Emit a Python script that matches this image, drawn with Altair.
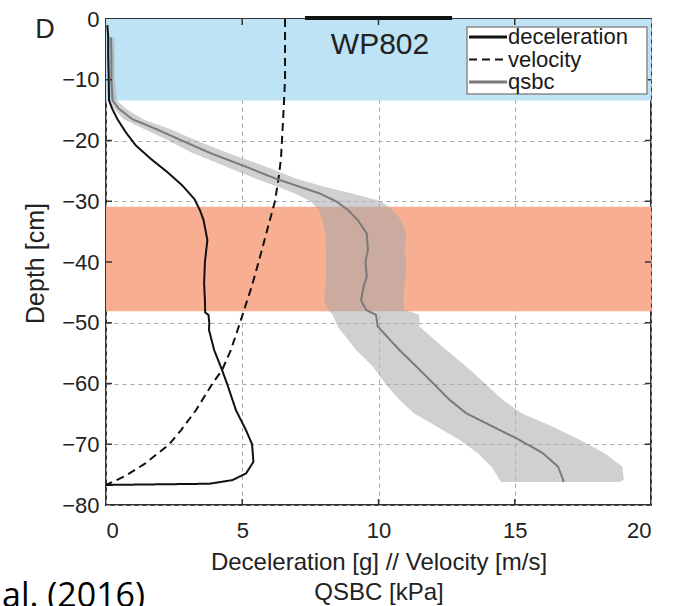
import altair as alt
import pandas as pd

# ---------------- data ----------------
series_names = ["deceleration", "velocity", "qsbc"]
series_colors = ["#111111", "#111111", "#7a7a7a"]
series_dashes = [[1, 0], [8, 5], [1, 0]]
series_widths = [2.8, 2.0, 3.0]

decel_depth = [-1, -3, -6, -10, -13.4, -14.8, -16.5, -18.6, -20.8, -23, -25.2, -27.4,
               -29.6, -31.5, -33.1, -36.4, -40, -43.5, -46.3, -48.3, -48.7, -50, -51.2,
               -54.5, -57.8, -60, -64.4, -67.7, -70, -72.9, -74.8, -75.9, -76.5, -76.7]
decel_g = [0.05, 0.08, 0.08, 0.1, 0.11, 0.23, 0.42, 0.72, 1.09, 1.64, 2.25, 2.8,
           3.24, 3.45, 3.58, 3.72, 3.63, 3.6, 3.63, 3.64, 3.76, 3.79, 3.78,
           3.97, 4.26, 4.44, 4.77, 5.14, 5.36, 5.41, 5.14, 4.64, 3.8, 0.0]

vel_depth = [0, -10, -16.5, -23, -26.3, -30, -35, -40, -44, -48, -51.2, -54.5, -57.8,
             -60, -64.4, -67.7, -70, -73.1, -75.2, -76.5, -76.7]
vel_ms = [6.57, 6.57, 6.5, 6.42, 6.33, 6.2, 5.9, 5.6, 5.35, 5.06, 4.83, 4.58, 4.26,
          3.91, 3.3, 2.75, 2.32, 1.46, 0.72, 0.1, 0.0]

qsbc_depth = [-3, -6, -10, -13.4, -14.8, -16.5, -18.1, -19.8, -22, -24.1, -26.3, -27.6,
              -28.7, -30, -31.4, -33.1, -35.3, -38, -40, -42.4, -44.1, -46.3, -47.9,
              -48.7, -50.6, -54.5, -57.2, -60.2, -62.7, -64.9, -67.1, -69.3, -71.5,
              -73.7, -75.9, -76.2]
qsbc_mid = [0.18, 0.2, 0.2, 0.24, 0.48, 0.97, 1.83, 2.68, 3.79, 5.01, 6.24, 7.1,
            7.83, 8.44, 8.87, 9.24, 9.57, 9.61, 9.52, 9.57, 9.45, 9.36, 9.55,
            9.91, 9.97, 10.77, 11.39, 12.06, 12.61, 13.22, 14.2, 15.18, 16.04,
            16.59, 16.78, 16.78]
qsbc_lo = [0.08, 0.1, 0.1, 0.12, 0.3, 0.65, 1.4, 2.2, 3.15, 4.3, 5.5, 6.3,
           6.9, 7.5, 7.8, 7.95, 8.05, 8.08, 8.08, 8.08, 8.05, 8.01, 8.14,
           8.32, 8.5, 9.18, 9.79, 10.28, 10.77, 11.3, 12.15, 12.98, 13.65,
           14.15, 14.45, 14.5]
qsbc_hi = [0.3, 0.32, 0.32, 0.4, 0.75, 1.35, 2.35, 3.2, 4.45, 5.75, 7.0, 8.0,
           9.0, 10.1, 10.5, 10.83, 11.02, 10.96, 11.02, 11.0, 10.95, 10.9, 10.96,
           11.5, 11.5, 12.49, 13.22, 13.96, 14.57, 15.25, 16.4, 17.4, 18.3,
           18.95, 19.0, 18.86]

band_top = [0, -30.9]
band_bottom = [-13.4, -48.1]
band_colors = ["#bde3f5", "#f7ae91"]

x_ticks = [0, 5, 10, 15, 20]
y_ticks = [-80, -70, -60, -50, -40, -30, -20, -10, 0]
x_inner = [5, 10, 15]
y_inner = [-70, -60, -50, -40, -30, -20, -10]
top_bar = [7.3, 12.7]

x_title = ["Deceleration [g] // Velocity [m/s]", "QSBC [kPa]"]
y_title = "Depth [cm]"

# ---------------- tables ----------------
rows = []
for name, dep, val in [("deceleration", decel_depth, decel_g),
                       ("velocity", vel_depth, vel_ms),
                       ("qsbc", qsbc_depth, qsbc_mid)]:
    for i, (d, v) in enumerate(zip(dep, val)):
        rows.append({"series": name, "depth": d, "value": v, "idx": i})
lines_df = pd.DataFrame(rows)
band_df = pd.DataFrame({"depth": qsbc_depth, "lo": qsbc_lo, "hi": qsbc_hi})
zones_df = pd.DataFrame({"top": band_top, "bottom": band_bottom, "c": band_colors})
yin_df = pd.DataFrame({"t": y_inner})
xin_df = pd.DataFrame({"t": x_inner})
bar_df = pd.DataFrame({"a": [top_bar[0]], "b": [top_bar[1]]})

FONT = "Liberation Sans"

xscale = alt.Scale(domain=[0, 20], nice=False, zero=False)
yscale = alt.Scale(domain=[-80, 0], nice=False, zero=False)
xaxis = alt.Axis(values=x_ticks, labelPadding=15, titleY=45, titleBaseline="top",
                 titleLineHeight=30, titleFontSize=24)
yaxis = alt.Axis(values=y_ticks, labelPadding=7, titleX=-63, titleY=244,
                 titleAngle=270, titleAlign="center", titleBaseline="alphabetic",
                 titleFontSize=25)


def X(field):
    return alt.X(field, type="quantitative", scale=xscale, axis=xaxis, title=x_title)


def Y(field):
    return alt.Y(field, type="quantitative", scale=yscale, axis=yaxis, title=y_title)


zones = alt.Chart(zones_df).mark_rect().encode(
    y=Y("top"), y2="bottom", color=alt.Color("c:N", scale=None)
)

band = alt.Chart(band_df).mark_area(orient="horizontal", color="#a8aaad", opacity=0.55).encode(
    y=Y("depth"), x=X("lo"), x2="hi"
)

lines = alt.Chart(lines_df).mark_line(strokeWidth=2).encode(
    x=X("value"), y=Y("depth"), order="idx:Q",
    color=alt.Color("series:N", scale=alt.Scale(domain=series_names, range=series_colors),
                    legend=None),
    strokeDash=alt.StrokeDash("series:N", scale=alt.Scale(domain=series_names, range=series_dashes),
                              legend=None),
    detail="series:N",
)

ytick_l = alt.Chart(yin_df).mark_rule(color="#333", strokeWidth=1.5).encode(
    y=Y("t"), x=alt.value(0), x2=alt.value(6))
ytick_r = alt.Chart(yin_df).mark_rule(color="#333", strokeWidth=1.5).encode(
    y=Y("t"), x=alt.value(539), x2=alt.value(545))
xtick_b = alt.Chart(xin_df).mark_rule(color="#333", strokeWidth=1.5).encode(
    x=X("t"), y=alt.value(480), y2=alt.value(486))
xtick_t = alt.Chart(xin_df).mark_rule(color="#333", strokeWidth=1.5).encode(
    x=X("t"), y=alt.value(0), y2=alt.value(6))

bar = alt.Chart(bar_df).mark_rule(color="#111", strokeWidth=4).encode(
    x=X("a"), x2="b", y=alt.value(-1))

# ---- legend box (drawn like the MATLAB legend) ----
legend_layers = [
    alt.Chart(bar_df).mark_rect(fill="white", stroke="#8a8a8a", strokeWidth=1.5).encode(
        x=alt.value(361), x2=alt.value(541), y=alt.value(8), y2=alt.value(75))
]
for k, name in enumerate(series_names):
    yk = 18 + k * 22.5
    legend_layers.append(
        alt.Chart(bar_df).mark_rule(color=series_colors[k], strokeDash=series_dashes[k],
                                    strokeWidth=series_widths[k]).encode(
            x=alt.value(363), x2=alt.value(401), y=alt.value(yk)))
    legend_layers.append(
        alt.Chart(bar_df).mark_text(text=name, font=FONT, fontSize=22, color="#1a1a1a",
                                    align="left", baseline="middle").encode(
            x=alt.value(402), y=alt.value(yk)))

label_d = alt.Chart(bar_df).mark_text(text="D", font=FONT, fontSize=27, color="#222",
                                      align="center", baseline="middle").encode(
    x=alt.value(-61), y=alt.value(11))
label_wp = alt.Chart(bar_df).mark_text(text="WP802", font=FONT, fontSize=30, color="#222",
                                       align="center", baseline="middle").encode(
    x=alt.value(274), y=alt.value(26))
label_al = alt.Chart(bar_df).mark_text(text="al. (2016)", font="Open Sans", fontSize=34,
                                       color="#000", align="left",
                                       baseline="alphabetic").encode(
    x=alt.value(-104), y=alt.value(588))

chart = alt.layer(
    zones, band, lines, ytick_l, ytick_r, xtick_b, xtick_t, bar,
    *legend_layers, label_d, label_wp, label_al
).properties(
    width=545, height=486,
    padding={"left": 106, "top": 19, "right": 44, "bottom": 101},
    autosize=alt.AutoSizeParams(type="none"),
    background="white",
).configure_view(
    stroke="#333", strokeWidth=2
).configure_axis(
    grid=True, gridDash=[4, 4], gridColor="#a9a9a9", gridWidth=1,
    domain=False, ticks=False, tickSize=0,
    labelFont=FONT, labelFontSize=22, labelColor="#222",
    titleFont=FONT, titleFontWeight="normal", titleColor="#222",
    zindex=0,
)

chart.save("out.html", embed_options={"renderer": "svg", "actions": False})
